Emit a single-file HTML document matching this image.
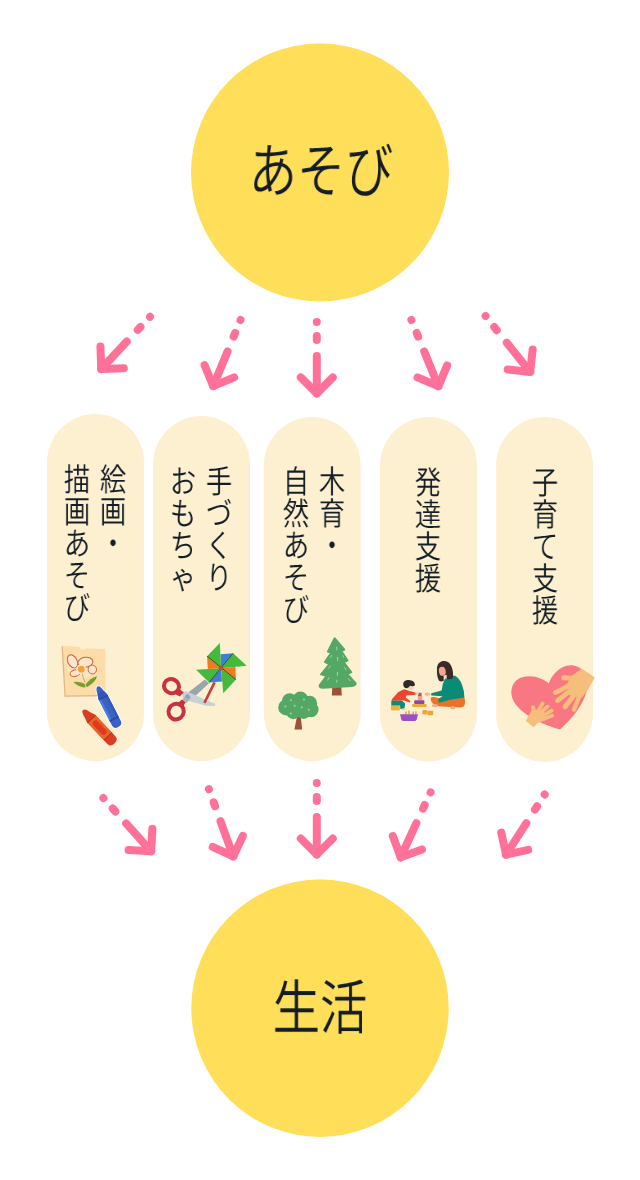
<!DOCTYPE html>
<html lang="ja">
<head>
<meta charset="utf-8">
<title>あそび 生活</title>
<style>
html,body{margin:0;padding:0;background:#fff;}
#stage{position:relative;-webkit-font-smoothing:antialiased;text-rendering:geometricPrecision;width:640px;height:1180px;background:#fff;overflow:hidden;
  font-family:"Liberation Sans","Noto Sans CJK JP",sans-serif;font-weight:350;color:#141d26;}
#art{position:absolute;left:0;top:0;width:640px;height:1180px;display:block;}
.big{position:absolute;will-change:transform;white-space:nowrap;font-size:57.5px;line-height:60px;height:60px;width:300px;
  text-align:center;transform:scaleX(0.83);transform-origin:50% 50%;}
.col{position:absolute;will-change:transform;width:32px;font-size:32px;line-height:32px;text-align:center;
  word-break:break-all;line-break:anywhere;overflow-wrap:anywhere;
  transform:scaleX(0.82);transform-origin:50% 0;}
</style>
</head>
<body>
<div id="stage">
<svg id="art" width="640" height="1180" viewBox="0 0 640 1180">
  <!-- circles -->
  <circle cx="320" cy="172.5" r="129" fill="#ffde59"/>
  <circle cx="320" cy="1008.2" r="128.7" fill="#ffde59"/>
  <!-- pills -->
  <g fill="#fdf0d0">
    <rect x="47" y="414" width="97" height="347.3" rx="48.5"/>
    <rect x="153" y="416" width="97" height="345.3" rx="48.5"/>
    <rect x="263.8" y="417" width="96.8" height="344.2" rx="48.4"/>
    <rect x="380" y="417" width="97" height="344.5" rx="48.5"/>
    <rect x="496.2" y="417" width="96.8" height="345" rx="48.4"/>
  </g>
  <!-- arrows top -->
  <g transform="translate(150 316.7) rotate(43)" fill="none" stroke="#ff7199" stroke-width="8" stroke-linecap="round" stroke-linejoin="round">
      <circle cx="0" cy="0" r="4" fill="#ff7199" stroke="none"/>
      <path d="M0 14V18"/>
      <path d="M0 34V71.5"/>
      <path d="M-16 55.5L0 71.5L16 55.5"/>
  </g>
  <g transform="translate(240.5 320) rotate(22.4)" fill="none" stroke="#ff7199" stroke-width="8" stroke-linecap="round" stroke-linejoin="round">
      <circle cx="0" cy="0" r="4" fill="#ff7199" stroke="none"/>
      <path d="M0 14V18"/>
      <path d="M0 34V71.5"/>
      <path d="M-16 55.5L0 71.5L16 55.5"/>
  </g>
  <g transform="translate(316.8 321.9)" fill="none" stroke="#ff7199" stroke-width="8" stroke-linecap="round" stroke-linejoin="round">
      <circle cx="0" cy="0" r="4" fill="#ff7199" stroke="none"/>
      <path d="M0 14V18"/>
      <path d="M0 34V71.5"/>
      <path d="M-16 55.5L0 71.5L16 55.5"/>
  </g>
  <g transform="translate(411.4 320) rotate(-22.2)" fill="none" stroke="#ff7199" stroke-width="8" stroke-linecap="round" stroke-linejoin="round">
      <circle cx="0" cy="0" r="4" fill="#ff7199" stroke="none"/>
      <path d="M0 14V18"/>
      <path d="M0 34V71.5"/>
      <path d="M-16 55.5L0 71.5L16 55.5"/>
  </g>
  <g transform="translate(485.5 316.1) rotate(-38.7)" fill="none" stroke="#ff7199" stroke-width="8" stroke-linecap="round" stroke-linejoin="round">
      <circle cx="0" cy="0" r="4" fill="#ff7199" stroke="none"/>
      <path d="M0 14V18"/>
      <path d="M0 34V71.5"/>
      <path d="M-16 55.5L0 71.5L16 55.5"/>
  </g>
  <!-- arrows bottom -->
  <g transform="translate(103.4 798.1) rotate(-41.9)" fill="none" stroke="#ff7199" stroke-width="8" stroke-linecap="round" stroke-linejoin="round">
      <circle cx="0" cy="0" r="4" fill="#ff7199" stroke="none"/>
      <path d="M0 14V18"/>
      <path d="M0 34V71.5"/>
      <path d="M-16 55.5L0 71.5L16 55.5"/>
  </g>
  <g transform="translate(208.9 789.2) rotate(-19.9)" fill="none" stroke="#ff7199" stroke-width="8" stroke-linecap="round" stroke-linejoin="round">
      <circle cx="0" cy="0" r="4" fill="#ff7199" stroke="none"/>
      <path d="M0 14V18"/>
      <path d="M0 34V71.5"/>
      <path d="M-16 55.5L0 71.5L16 55.5"/>
  </g>
  <g transform="translate(316.8 783)" fill="none" stroke="#ff7199" stroke-width="8" stroke-linecap="round" stroke-linejoin="round">
      <circle cx="0" cy="0" r="4" fill="#ff7199" stroke="none"/>
      <path d="M0 14V18"/>
      <path d="M0 34V71.5"/>
      <path d="M-16 55.5L0 71.5L16 55.5"/>
  </g>
  <g transform="translate(430.6 792.3) rotate(24.7)" fill="none" stroke="#ff7199" stroke-width="8" stroke-linecap="round" stroke-linejoin="round">
      <circle cx="0" cy="0" r="4" fill="#ff7199" stroke="none"/>
      <path d="M0 14V18"/>
      <path d="M0 34V71.5"/>
      <path d="M-16 55.5L0 71.5L16 55.5"/>
  </g>
  <g transform="translate(544.7 794.5) rotate(32.7)" fill="none" stroke="#ff7199" stroke-width="8" stroke-linecap="round" stroke-linejoin="round">
      <circle cx="0" cy="0" r="4" fill="#ff7199" stroke="none"/>
      <path d="M0 14V18"/>
      <path d="M0 34V71.5"/>
      <path d="M-16 55.5L0 71.5L16 55.5"/>
  </g>
  <!-- icon 1: drawing paper + crayons -->
  <g id="icon-draw">
    <path d="M61.5 646.3L79.6 647.5L80.4 649.9L85.6 650.1L86.2 648.8L104.5 649.7L104.9 696.2L64.5 696.7Z" fill="#e2b385"/>
    <path d="M62.8 645.7L80 646.9L80.7 649.3L85.8 649.5L86.4 648.2L105.2 649.1L105.4 695.1L65.6 695.4Z" fill="#fddcaa"/>
    <ellipse cx="81" cy="667.5" rx="14" ry="11" fill="#fde8c4" opacity="0.8"/>
    <g fill="#fde5cb" stroke="#c8633c" stroke-width="1">
      <ellipse cx="72.5" cy="661.4" rx="4.6" ry="7" transform="rotate(-28 72.5 661.4)"/>
      <ellipse cx="85.4" cy="662.3" rx="7.6" ry="5" transform="rotate(-8 85.4 662.3)"/>
      <ellipse cx="92.3" cy="669.5" rx="4.2" ry="4.4"/>
      <ellipse cx="75.2" cy="673.1" rx="5.2" ry="3.3" transform="rotate(-14 75.2 673.1)"/>
    </g>
    <circle cx="81.2" cy="669.2" r="5" fill="#fdecd2"/>
    <circle cx="81.25" cy="669.2" r="3.4" fill="#f4a43b"/>
    <path d="M82.3 673.6Q83.2 678 84.8 682.6" fill="none" stroke="#caa06e" stroke-width="0.9"/>
    <g fill="#7e9b2b" stroke="#dde6a4" stroke-width="1.2" paint-order="stroke" stroke-linejoin="round">
      <path d="M73.4 682.1Q79.6 680.8 86.6 685Q86.4 687.6 84 687.6Q78 686.8 73.4 682.1Z"/>
      <path d="M97 676.2Q96 681.4 87.4 687Q85.2 686.6 85.6 684.6Q90 678.2 97 676.2Z"/>
    </g>
    <!-- blue crayon -->
    <g transform="translate(97.6 686.4) rotate(-27)">
      <path id="crb" d="M0 0C-1.8 0-3 3-3.5 6.6L-5 11.500V41.400Q-5 45.600 0 45.600Q5 45.600 5 41.400V11.500L3.500 6.600C3 3 1.800 0 0 0Z" fill="#fff" stroke="#fff" stroke-width="1.600" stroke-linejoin="round"/>
      <path d="M0 0C-1.8 0-3 3-3.5 6.6L-5 11.500V41.400Q-5 45.600 0 45.600Q5 45.600 5 41.400V11.500L3.500 6.600C3 3 1.800 0 0 0Z" fill="#3a62c6"/>
      <path d="M-5 11.500H5V13.300H-5ZM-5 35.500H5V37.300H-5Z" fill="#2a4aa4"/>
      <path d="M-5 13.300H-2.600V35.500H-5Z" fill="#4d79de"/>
      <path d="M2.800 13.300H5V35.500H2.800Z" fill="#3358bb"/>
      <path d="M-3.500 6.600H3.500L5 11.500H-5Z" fill="#3156ba"/>
    </g>
    <!-- red crayon -->
    <g transform="translate(83 710) rotate(-43.3)">
      <path d="M0 0C-2 0-3.200 3-3.800 6.600L-5.500 11.500V41.400Q-5.500 46 0 46Q5.500 46 5.500 41.400V11.500L3.800 6.600C3.200 3 2 0 0 0Z" fill="#db3c24"/>
      <path d="M-5.500 12.500H5.500V36H-5.500Z" fill="#e8642b"/>
      <rect x="-3" y="15.500" width="6" height="17.500" rx="3" fill="#e2391e"/>
      <path d="M-5.500 11.700H5.500V13H-5.500ZM-5.500 35.600H5.500V36.900H-5.500Z" fill="#b53c1e"/>
    </g>
  </g>
  <!-- icon 2: scissors + pinwheel -->
  <g id="icon-craft">
    <!-- scissors blades -->
    <path d="M187 693.4L205.200 679.200L209.600 682.800L193.600 697.400Z" fill="#98a4ae"/>
    <path d="M181.400 692.400L186.400 691.200L214.800 703.800Q216 705.600 213.800 706L206 705.800L183.400 699.400Z" fill="#c6d1d8"/>
    <path d="M181.800 700.800L186.400 694.600L191.200 697.400L186.400 703.200Z" fill="#a9b4bd"/>
    <circle cx="187.600" cy="696.400" r="2.100" fill="#9a9cb6"/>
    <!-- handles -->
    <g fill="none" stroke="#c9313f" stroke-width="4">
      <ellipse cx="171.500" cy="686.200" rx="7.600" ry="7" transform="rotate(25 171.500 686.200)"/>
      <ellipse cx="176.100" cy="711.600" rx="7.500" ry="8" transform="rotate(25 176.100 711.600)"/>
    </g>
    <path d="M174.600 693.800L178.800 688.600L183.800 692.400L179.600 696.600Z" fill="#c9313f"/>
    <path d="M176.400 704.400L181.800 699.600L185.600 702.400L182.400 707.600Z" fill="#c9313f"/>
    <!-- pinwheel stick -->
    <path d="M214.6 682.4L204.4 702.8" stroke="#c4403a" stroke-width="2.6" fill="none"/>
    <!-- pinwheel -->
    <g stroke="#e9f6d2" stroke-width="1.6" stroke-linejoin="round" fill="#e9f6d2">
      <path d="M207.1 656.2L219.8 643L221.1 668.3Z"/>
      <path d="M233.1 653.3L246.7 665.8L221.1 668.3Z"/>
      <path d="M235.9 679.6L223.3 693.2L221.1 668.3Z"/>
      <path d="M209.2 682.4L196.1 669.7L221.1 668.3Z"/>
    </g>
    <path d="M207.1 656.2L221.1 668.3L207.8 669.1Z" fill="#f07a1c"/>
    <path d="M235.9 679.6L221.1 668.3L235.4 667Z" fill="#f07a1c"/>
    <path d="M220.5 654.2L233.1 653.3L221.1 668.3Z" fill="#3f7fd6"/>
    <path d="M209.2 682.4L221.1 668.3L222 681.6Z" fill="#3f7fd6"/>
    <g fill="#46b83c">
      <path d="M207.1 656.2L219.8 643L221.1 668.3Z"/>
      <path d="M233.1 653.3L246.7 665.8L221.1 668.3Z"/>
      <path d="M235.9 679.6L223.3 693.2L221.1 668.3Z"/>
      <path d="M209.2 682.4L196.1 669.7L221.1 668.3Z"/>
    </g>
    <path d="M207.1 656.2L235.9 679.6M233.1 653.3L209.2 682.4" stroke="#1f4d22" stroke-width="0.9" fill="none"/>
    <circle cx="221.1" cy="668.3" r="2.3" fill="#cf4a2c"/>
  </g>
  <!-- icon 3: trees -->
  <g id="icon-trees">
    <path d="M332.4 685.6H341.2L341.8 695.6H331.8Z" fill="#9a5339"/>
    <path d="M334.6 638.2L344.4 649.6L341.4 651L347.6 660.4L343.8 662.2L351.4 672.2L347.4 674L355.8 683.4Q355.6 685.6 352 686L322.6 687.8Q319 687.4 319.6 685.2L326.4 676L321 674.4L329.2 664.2L324.8 662L331.2 652.8L327.8 651.6Z" fill="#54a765" stroke="#54a765" stroke-width="1.8" stroke-linejoin="round"/>
    <g stroke="#96dca4" stroke-width="1" stroke-linecap="round" fill="none">
      <path d="M336.8 647V650"/><path d="M330.4 657.4L331.8 655.2"/><path d="M337.6 657.4V660.6"/>
      <path d="M342.8 655.6L343.8 657.4"/><path d="M328.4 668.2L330.4 666"/><path d="M344.6 667.6L346.2 669.8"/>
      <path d="M337.6 672.2L337.2 675.4"/><path d="M327.6 680L329 677.8"/><path d="M336.9 680.2L336.6 682.4"/>
      <path d="M348.6 678.6L350.2 680.8"/>
    </g>
    <path d="M297.2 715.6H300.6L302.2 729.4H294.4Z" fill="#9a5339"/>
    <g fill="#54a765">
      <circle cx="289.6" cy="700.8" r="7.6"/><circle cx="300.4" cy="699.6" r="8"/><circle cx="309.6" cy="703.4" r="7.6"/>
      <circle cx="286.2" cy="707.4" r="8"/><circle cx="293.4" cy="712" r="7.2"/><circle cx="303.6" cy="711.6" r="7.4"/>
      <circle cx="311" cy="709.6" r="7.6"/><circle cx="298" cy="706" r="9"/>
    </g>
    <g fill="#90dba2">
      <circle cx="290.8" cy="700.3" r="1"/><circle cx="304" cy="699.5" r="1"/><circle cx="285.3" cy="706.6" r="1"/>
      <circle cx="294.7" cy="705.8" r="1"/><circle cx="301.7" cy="707.3" r="1"/><circle cx="308.8" cy="709.7" r="1"/>
      <circle cx="290.8" cy="713.6" r="1"/>
    </g>
  </g>
  <!-- icon 4: parent and child playing with blocks -->
  <g id="icon-play">
    <!-- mother legs / pants -->
    <path d="M430.6 698.2Q431.4 696.6 434 697L445 699.4L464.2 697Q465.6 700.6 464.8 704.2Q464 707.4 460 707.6L441 706.4Q436 706.6 433 703.8Q430.4 701 430.6 698.2Z" fill="#e8732b"/>
    <ellipse cx="435" cy="705.6" rx="3.2" ry="1.7" fill="#f4a98c"/>
    <ellipse cx="452.8" cy="707.8" rx="2.6" ry="1.7" fill="#f4a98c"/>
    <!-- sweater -->
    <path d="M445.2 678L454.6 675.6Q459.6 678.2 462 684.8Q464.6 691.4 464.4 697.6Q452 699 439.4 702.8Q437.4 701 439 698.6L442.6 696.2L431.6 695.6Q430.4 694.4 431.4 693.2L441.6 690.4Q442.4 683.4 445.2 678Z" fill="#0a8b77"/>
    <!-- hand -->
    <ellipse cx="427.4" cy="694.2" rx="2.9" ry="1.7" fill="#f6b7a0"/>
    <!-- hair back, neck, face, fringe -->
    <path d="M437 670C436.400 663.600 440.600 661 444.200 661C449 661 451.600 665 452.600 670C453.300 674 453.200 677 452.600 678.600L447.600 679.600L445.400 677L443.600 678.200L443.800 680.800C441.400 682.200 439 681.600 438.400 679.600C437.200 676.600 436.800 673 437 670Z" fill="#3a2b29"/>
    <path d="M443.400 675.400L446.600 674.800L446.800 678.600L444 678.800Z" fill="#fbd9c8"/>
    <ellipse cx="442.300" cy="671.300" rx="3.400" ry="4.500" transform="rotate(-10 442.300 671.300)" fill="#f5a58f"/>
    <path d="M438.400 667.200C440.200 663.800 445.400 663.400 447.400 668.400L448.600 675.600L452 672L449.400 663.600L442 661.400L438.200 664.200Z" fill="#3a2b29"/>
    <!-- blocks between them -->
    <rect x="418" y="692.8" width="3.6" height="3.2" fill="#9c5b7b"/>
    <rect x="417.8" y="696" width="4.4" height="4.2" fill="#f0a276"/>
    <rect x="414.2" y="700.2" width="10.2" height="3.8" rx="0.8" fill="#8e47b2"/>
    <rect x="412.2" y="704" width="14.4" height="3" rx="0.8" fill="#f0a93c"/>
    <rect x="422.4" y="710" width="4.8" height="4.6" rx="0.8" fill="#eda43a"/>
    <rect x="427.4" y="710.8" width="5.8" height="4.4" rx="0.8" fill="#eda43a"/>
    <!-- child -->
    <rect x="391" y="705.6" width="8.8" height="4.8" rx="0.8" fill="#e9b53b"/>
    <path d="M391.4 700.2L401.8 700.4L405.2 703.6L404.4 708.8L400.4 709L400 705.4L391.2 705.4Z" fill="#0f8a74"/>
    <ellipse cx="403.6" cy="709.2" rx="2.2" ry="1" fill="#f6c9a8"/>
    <path d="M391.8 699.2L398.4 692L404 689.2L408.8 690.8L415.8 692.8L415.8 694.8L406.4 695.6L405.6 697.6L410.4 701L409.8 702.6L404 700.6L392.2 700.4Z" fill="#ea4630"/>
    <ellipse cx="417.2" cy="693.8" rx="1.8" ry="1.2" fill="#f8c4ae"/>
    <ellipse cx="410.6" cy="686.8" rx="3" ry="3" fill="#f9cdb6"/>
    <path d="M403.2 684.2C403.2 680.6 407.2 679.6 410 680.2C413.2 680.4 415.4 682.6 414.8 685.6C413.6 686.8 411.6 686 410 685.8C409 686.6 408.6 688 407 688.2C404.6 688.2 403.2 686.6 403.2 684.2Z" fill="#2e2a28"/>
    <!-- basket -->
    <path d="M405.2 711.4h1.6v3h-1.6zM408.2 710.8h1.6v3.6h-1.6zM412.4 711.6h1.6v3h-1.6zM415.2 711.2h1.4v3h-1.4z" fill="#f0a24a"/>
    <path d="M400 714.2H418L416.6 719.8Q416.2 720.9 415 720.9H403Q401.8 720.9 401.4 719.8Z" fill="#9d50c6"/>
  </g>
  <!-- icon 5: heart with hands -->
  <g id="icon-heart">
    <path d="M548.8 683.4C551.6 675 561 663.600 573.4 665.400C585.600 667.400 589.800 679.600 586.600 691.600C583 704.600 572.400 719 560 729.400C544.6 725.6 524.8 716.4 515.6 704.2C508.200 694.4 510.8 681.6 521.4 677.6C531.6 674 543.2 678.2 548.8 683.4Z" fill="#f87783"/>
    <!-- big hand -->
    <g fill="none" stroke="#f5be7b" stroke-linecap="round" stroke-linejoin="round">
      <path d="M576 682L555.400 692.600" stroke-width="4.800"/>
      <path d="M576 686L557.600 700.600" stroke-width="4.800"/>
      <path d="M578 690L565 707" stroke-width="4.800"/>
      <path d="M581 692L574 709.600" stroke-width="4.400"/>
      <path d="M577 678.600L563.800 677.800" stroke-width="5"/>
    </g>
    <path d="M581.800 669.6L593.8 677.6L586.6 690.4L580.8 697.6L569.6 694.2L567.6 684.2L573.6 675.400Z" fill="#f5be7b" stroke="#f5be7b" stroke-width="1.600" stroke-linejoin="round"/>
    <!-- small hand -->
    <g transform="translate(-2.800 -1.800)">
      <g fill="none" stroke="#f5be7b" stroke-linecap="round" stroke-linejoin="round">
        <path d="M540 714L545.400 705.200" stroke-width="3.800"/>
        <path d="M543 715L550.400 708.200" stroke-width="3.800"/>
        <path d="M545 718L554.400 712.400" stroke-width="3.800"/>
        <path d="M545.600 721.200L555 717.400" stroke-width="3.600"/>
        <path d="M537.600 717L535.800 709" stroke-width="4"/>
      </g>
      <path d="M535 713L545 713.600L548.400 721L539.400 724.400L536.400 728L529.600 722.400Z" fill="#f5be7b" stroke="#f5be7b" stroke-width="1.600" stroke-linejoin="round"/>
    </g>
  </g>
</svg>
<div class="big" style="left:170.5px;top:142.4px;transform:scale(0.838,1.03);">あそび</div>
<div class="big" style="left:170.2px;top:979.3px;transform:scale(0.825,1.03);">生活</div>
<div class="col" style="left:96.9px;top:463.6px;">絵画・</div>
<div class="col" style="left:61.2px;top:463.6px;">描画あそび</div>
<div class="col" style="left:202.9px;top:465.6px;">手づくり</div>
<div class="col" style="left:166.7px;top:465.6px;">おもちゃ</div>
<div class="col" style="left:316.4px;top:466px;">木育・</div>
<div class="col" style="left:280.3px;top:466px;">自然あそび</div>
<div class="col" style="left:412.3px;top:466.5px;">発達支援</div>
<div class="col" style="left:528.6px;top:466.5px;">子育て支援</div>
</div>
</body>
</html>
